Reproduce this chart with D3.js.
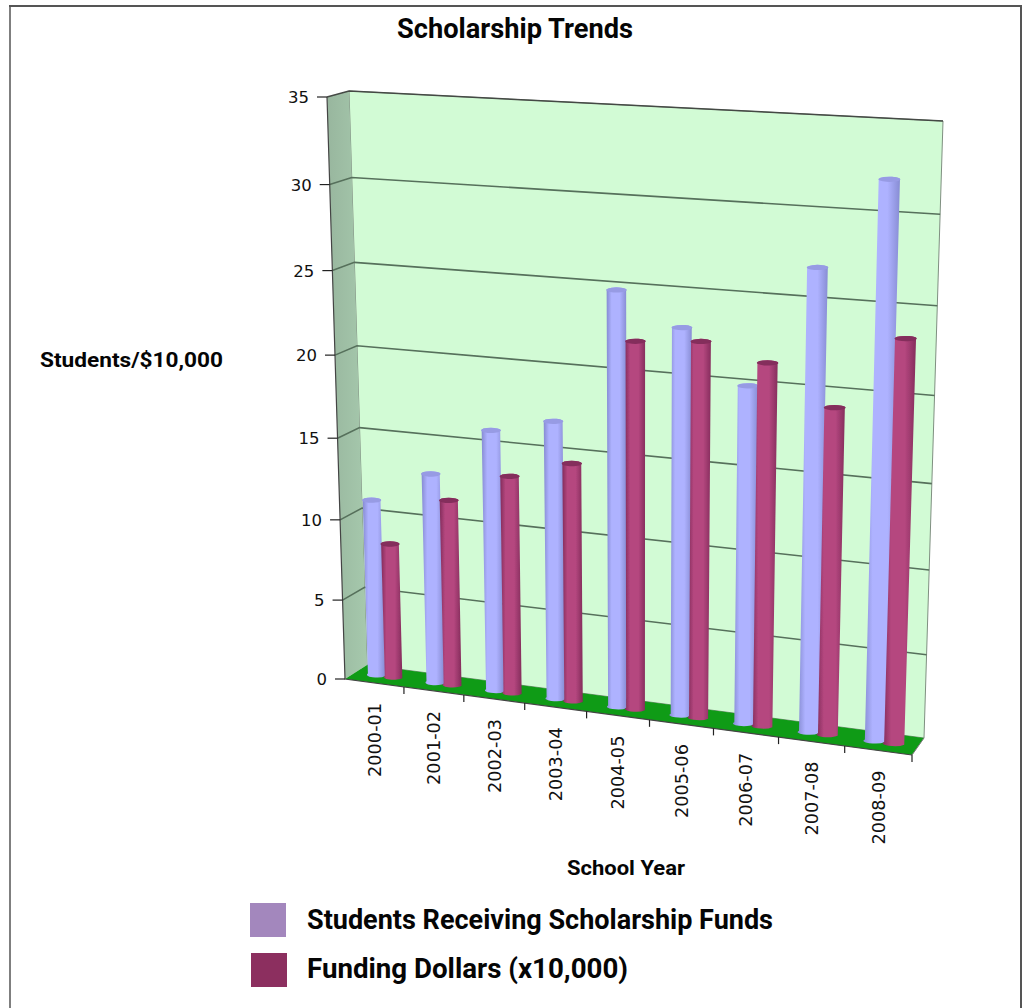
<!DOCTYPE html>
<html><head><meta charset="utf-8">
<script src="https://cdn.jsdelivr.net/npm/d3@7"></script>
<style>html,body{margin:0;padding:0;background:#fff;overflow:hidden}svg{display:block}</style>
</head><body><div id="chart"></div>
<script>
const categories = ["2000-01","2001-02","2002-03","2003-04","2004-05","2005-06","2006-07","2007-08","2008-09"];
const students = [11,13,16,16.9,24.85,23,20,26.95,32];
const funding = [8.4,11.5,13.35,14.5,22,22.3,21.4,19.2,23.4];
const valueTicks = [0,5,10,15,20,25,30,35];
const seriesNames = ["Students Receiving Scholarship Funds","Funding Dollars (x10,000)"];

const W=1022,H=1008;
const svg=d3.select("#chart").append("svg").attr("width",W).attr("height",H);
const defs=svg.append("defs");

// perspective planes: corners TL,TR,BR,BL
function plane(q){
  const [[x0,y0],[x1,y1],[x2,y2],[x3,y3]]=q;
  const dx1=x1-x2,dx2=x3-x2,sx=x0-x1+x2-x3,dy1=y1-y2,dy2=y3-y2,sy=y0-y1+y2-y3;
  const den=dx1*dy2-dx2*dy1;
  const g=(sx*dy2-dx2*sy)/den,h=(dx1*sy-sx*dy1)/den;
  const a=x1-x0+g*x1,b=x3-x0+h*x3,d=y1-y0+g*y1,e=y3-y0+h*y3;
  return (u,v)=>{const w=g*u+h*v+1;return [(a*u+b*v+x0)/w,(d*u+e*v+y0)/w];};
}
const wallQ=[[349,91],[943,121],[924,738],[367,665]];
const frontQ=[[327,97],[931,130],[912,755],[345,679]];
const midQ=wallQ.map((p,i)=>[(p[0]+frontQ[i][0])/2,(p[1]+frontQ[i][1])/2]);
const wall=plane(wallQ),front=plane(frontQ),mid=plane(midQ);
const xS=d3.scaleLinear().domain([0,categories.length]).range([0,1]);
const yS=d3.scaleLinear().domain([0,35]).range([1,0]);
const line=d3.line();

// page border
svg.append("rect").attr("x",9).attr("y",5).attr("width",2).attr("height",H).attr("fill","#7f7f7f");
svg.append("rect").attr("x",9).attr("y",5).attr("width",1012).attr("height",2).attr("fill","#555");
svg.append("rect").attr("x",1020).attr("y",5).attr("width",2).attr("height",H).attr("fill","#555");

// gradients
const g1=defs.append("linearGradient").attr("id","side").attr("x1",0).attr("x2",1).attr("y1",0).attr("y2",0);
g1.append("stop").attr("offset",0).attr("stop-color","#98b69e");
g1.append("stop").attr("offset",1).attr("stop-color","#a6c9ad");
function cyl(id,e,c){
  const g=defs.append("linearGradient").attr("id",id).attr("x1",0).attr("x2",1).attr("y1",0).attr("y2",0);
  [[0,e],[.25,c],[.65,c],[1,e]].forEach(s=>g.append("stop").attr("offset",s[0]).attr("stop-color",s[1]));
}
cyl("cb","#868bd2","#aeb2ff");
cyl("cr","#832c5b","#b5477f");
defs.append("filter").attr("id","soft").append("feGaussianBlur").attr("stdDeviation",0.7);
defs.append("filter").attr("id","soft2").append("feGaussianBlur").attr("stdDeviation",0.4);

const plot=svg.append("g");
// walls and floor
plot.append("path").attr("d",line([wall(0,0),wall(1,0),wall(1,1),wall(0,1)])+"Z")
  .attr("fill","#d2fbd5").attr("stroke","#7f8f80").attr("stroke-width",1);
plot.append("path").attr("d",line([front(0,0),wall(0,0),wall(0,1),front(0,1)])+"Z")
  .attr("fill","url(#side)");
plot.append("path").attr("d",line([front(0,1),wall(0,1),wall(1,1),front(1,1)])+"Z")
  .attr("fill","#0f9b16");
// gridlines
const grid=plot.append("g").attr("filter","url(#soft2)");
valueTicks.forEach(t=>{
  const v=yS(t);
  if(t>0) grid.append("path").attr("d",line([front(0,v),wall(0,v),wall(1,v)]))
    .attr("fill","none").attr("stroke",t===35?"#454a45":"#56705b").attr("stroke-width",1.6);
});
plot.append("path").attr("d",line([front(0,0),front(0,1),front(1,1)]))
  .attr("fill","none").attr("stroke","#444").attr("stroke-width",1.2);
plot.append("path").attr("d",line([wall(1,1),front(1,1)]))
  .attr("fill","none").attr("stroke","#777").attr("stroke-width",1);

// bars
const bars=plot.append("g").attr("filter","url(#soft)");
function bar(i,val,off,fill,cap){
  const c=i+.5+off,hw=.15,top=yS(val);
  const a=mid(xS(c-hw),top),b=mid(xS(c+hw),top),p=mid(xS(c+hw),1),q=mid(xS(c-hw),1);
  const rx=(b[0]-a[0])/2,ry=2.5;
  bars.append("path").attr("d",`M${a}L${q}A${rx},${ry} 0 0 0 ${p}L${b}A${rx},${ry} 0 0 0 ${a}Z`).attr("fill",`url(#${fill})`);
  bars.append("path").attr("d",`M${a}A${rx},${ry} 0 0 0 ${b}A${rx},${ry} 0 0 0 ${a}Z`).attr("fill",cap);
}
students.forEach((v,i)=>bar(i,v,-.145,"cb","#979be4"));
funding.forEach((v,i)=>bar(i,v,.145,"cr","#842d5c"));

// y axis ticks
const tf="'DejaVu Sans'";
valueTicks.forEach(t=>{
  const p=front(0,yS(t));
  plot.append("path").attr("d",line([[p[0]-10,p[1]],p])).attr("stroke","#222").attr("stroke-width",1.2);
  svg.append("text").attr("x",p[0]-18).attr("y",p[1]+6).attr("text-anchor","end")
    .attr("font-family",tf).attr("font-size",16.5).attr("fill","#111").text(t);
});
// category ticks
categories.forEach((c,i)=>{
  const t=front(xS(i+1),1);
  plot.append("path").attr("d",line([t,[t[0],t[1]+7]])).attr("stroke","#222").attr("stroke-width",1.2);
  const m=front(xS(i+.5),1);
  svg.append("text").attr("transform",`translate(${m[0]+6.5},${m[1]+20}) rotate(-90)`).attr("text-anchor","end")
    .attr("font-family",tf).attr("font-size",18).attr("fill","#111").attr("textLength",74).attr("lengthAdjust","spacingAndGlyphs").text(c);
});

// titles
function label(txt,x,y,len,size){
  svg.append("text").attr("x",x).attr("y",y).attr("font-family","Roboto").attr("font-weight",700)
    .attr("font-size",size).attr("fill","#050505").attr("textLength",len).attr("lengthAdjust","spacingAndGlyphs").text(txt);
}
label("Scholarship Trends",397,38,236,27);
label("Students/$10,000",40,367,183,21);
label("School Year",567,875,118,20.5);
// legend
const swatchColors=["#a387bd","#8c2f5f"];
const ly=d3.scalePoint().domain(seriesNames).range([903,953]);
seriesNames.forEach((n,i)=>{
  svg.append("rect").attr("x",250+i).attr("y",ly(n)).attr("width",36).attr("height",34).attr("fill",swatchColors[i]);
});
label(seriesNames[0],307,929,466,27);
label(seriesNames[1],307,978,321,27);
</script></body></html>
